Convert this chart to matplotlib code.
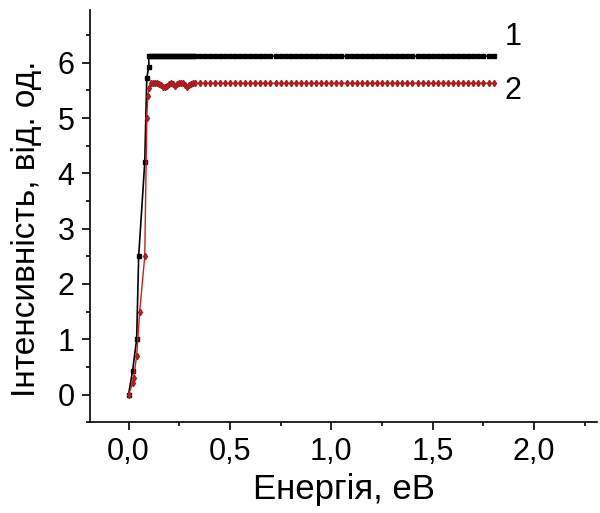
import matplotlib
matplotlib.use("Agg")
import matplotlib.pyplot as plt
from matplotlib.ticker import MultipleLocator, FuncFormatter

plt.rcParams['font.family'] = ['Liberation Sans', 'DejaVu Sans']

# shared energy grid of the plateau
e_dense = [0.10, 0.11, 0.12, 0.13, 0.14, 0.15, 0.16, 0.17, 0.18, 0.19, 0.20,
           0.21, 0.22, 0.23, 0.24, 0.25, 0.26, 0.27, 0.28, 0.29, 0.30, 0.31,
           0.32, 0.33]
e_sparse = [0.35, 0.375, 0.40, 0.425, 0.45, 0.475, 0.50, 0.525, 0.55, 0.575,
            0.60, 0.625, 0.65, 0.675, 0.70, 0.725, 0.75, 0.775, 0.80, 0.825,
            0.85, 0.875, 0.90, 0.925, 0.95, 0.975, 1.00, 1.025, 1.05, 1.075,
            1.10, 1.125, 1.15, 1.175, 1.20, 1.225, 1.25, 1.275, 1.30, 1.325,
            1.35, 1.375, 1.40, 1.425, 1.45, 1.475, 1.50, 1.525, 1.55, 1.575,
            1.60, 1.625, 1.65, 1.675, 1.70, 1.725, 1.75, 1.775, 1.80]

# curve 1 (black)
e1_rise = [0.0, 0.02, 0.04, 0.05, 0.08, 0.09, 0.10]
i1_rise = [0.0, 0.43, 1.0, 2.5, 4.2, 5.73, 5.93]
i1_dense = [6.12] * 24
i1_sparse = [6.12] * 59

# curve 2 (red)
e2_rise = [0.0, 0.02, 0.025, 0.04, 0.055, 0.08, 0.09, 0.095]
i2_rise = [0.0, 0.2, 0.3, 0.7, 1.5, 2.5, 5.0, 5.4]
i2_dense = [5.55, 5.63, 5.64, 5.63, 5.64, 5.62, 5.60, 5.57, 5.56, 5.58, 5.62,
            5.63, 5.61, 5.58, 5.62, 5.64, 5.63, 5.64, 5.60, 5.57, 5.60, 5.62,
            5.63, 5.63]
i2_sparse = [5.63] * 59

fig = plt.figure(figsize=(6.0, 5.13), dpi=100)
ax = fig.add_axes([0.15, 0.177, 0.845, 0.803])

ax.plot(e1_rise + e_dense + e_sparse, i1_rise + i1_dense + i1_sparse,
        color='black', lw=1.2, marker='s', ms=3.4, mec='black', mfc='black')
ax.plot(e2_rise + e_dense + e_sparse, i2_rise + i2_dense + i2_sparse,
        color='#d81818', lw=1.0, marker='d', ms=3.2, mec='#a81c1c', mfc='#c02020')

ax.text(1.855, 6.2, '1', fontsize=22, ha='left', va='bottom')
ax.text(1.855, 5.76, '2', fontsize=22, ha='left', va='top')

ax.set_xlim(-0.19, 2.31)
ax.set_ylim(-0.5, 6.95)
ax.xaxis.set_major_locator(MultipleLocator(0.5))
ax.xaxis.set_minor_locator(MultipleLocator(0.25))
ax.yaxis.set_major_locator(MultipleLocator(1))
ax.yaxis.set_minor_locator(MultipleLocator(0.5))
ax.xaxis.set_major_formatter(FuncFormatter(lambda v, p: ('%.1f' % v).replace('.', ',')))
ax.yaxis.set_major_formatter(FuncFormatter(lambda v, p: '%d' % v))
ax.tick_params(which='major', direction='out', length=6, width=1.2, labelsize=22, pad=5)
ax.tick_params(which='minor', direction='out', length=3, width=1.2)

ax.spines['top'].set_visible(False)
ax.spines['right'].set_visible(False)
ax.spines['left'].set_linewidth(1.2)
ax.spines['bottom'].set_linewidth(1.2)

ax.set_xlabel('Енергія, еВ', fontsize=25, labelpad=4)
ax.set_ylabel('Інтенсивність, від. од.', fontsize=24)
ax.yaxis.set_label_coords(-0.095, 0.47)

fig.savefig('out.png', dpi=100)
